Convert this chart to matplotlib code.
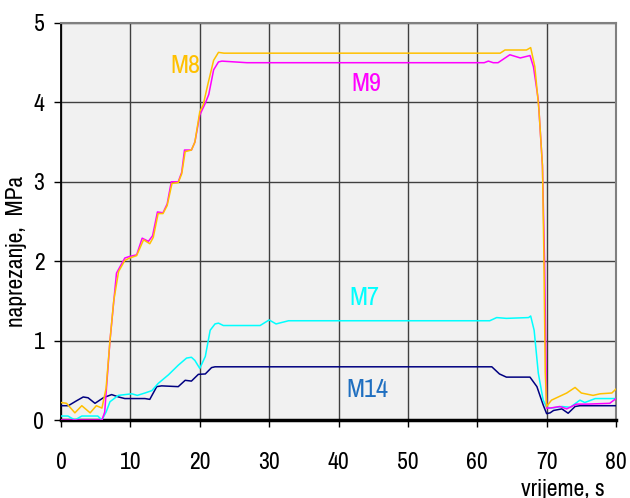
import matplotlib
matplotlib.use("Agg")
import matplotlib.pyplot as plt

plt.rcParams['font.family'] = ['Archivo Narrow', 'Liberation Sans', 'DejaVu Sans']

# stress traces, time in seconds, stress in MPa
m8_t = [0, 0.8, 2.0, 3.0, 4.2, 5.1, 5.9, 6.5, 7.06, 7.6, 8.3, 9.2, 9.9, 10.9, 11.9, 12.8,
        13.3, 14.0, 14.7, 15.3, 16.0, 16.9, 17.4, 17.9, 18.8, 19.3, 20.0, 20.5, 21.2, 22.0,
        22.7, 23.5, 30, 40, 50, 60, 63.3, 64.0, 67.1, 67.7, 68.3, 68.9, 69.4, 69.6, 69.8,
        70.0, 70.7, 72.9, 74.1, 75.0, 76.7, 77.7, 79.4, 80]
m8_v = [0.22, 0.21, 0.09, 0.18, 0.09, 0.18, 0.15, 0.4, 1.0, 1.5, 1.87, 2.01, 2.04, 2.07, 2.27, 2.22,
        2.3, 2.60, 2.60, 2.7, 2.98, 2.99, 3.1, 3.38, 3.40, 3.5, 3.88, 3.97, 4.24, 4.53,
        4.63, 4.62, 4.62, 4.62, 4.62, 4.62, 4.62, 4.66, 4.66, 4.69, 4.45, 3.9, 3.2, 2.1, 0.6,
        0.17, 0.25, 0.34, 0.41, 0.34, 0.31, 0.33, 0.34, 0.39]

m9_t = [0, 5.9, 6.3, 7.06, 8.0, 9.2, 9.9, 10.9, 11.7, 12.6, 13.2, 13.9, 14.7, 15.3, 15.9,
        16.9, 17.4, 17.8, 18.8, 19.3, 20.0, 20.8, 21.3, 22.0, 22.7, 23.2, 26.8, 40, 61.0,
        61.6, 62.3, 63.0, 64.7, 66.2, 67.6, 68.1, 68.8, 69.4, 69.7, 70.0, 70.5, 71.9, 72.9,
        74.3, 75.8, 79.1, 80]
m9_v = [0, 0, 0.1, 1.0, 1.85, 2.04, 2.06, 2.08, 2.29, 2.25, 2.32, 2.62, 2.61, 2.72, 3.0,
        3.0, 3.12, 3.4, 3.4, 3.5, 3.84, 3.99, 4.10, 4.41, 4.51, 4.52, 4.50, 4.50, 4.50,
        4.52, 4.50, 4.50, 4.60, 4.56, 4.59, 4.45, 4.03, 3.2, 2.0, 0.15, 0.15, 0.17, 0.14,
        0.2, 0.2, 0.21, 0.27]

m7_t = [0, 1.0, 2.0, 3.0, 5.3, 5.9, 6.5, 7.06, 8.26, 10.2, 11.0, 12.1, 13.1, 14.0, 15.5,
        16.9, 18.1, 18.8, 19.3, 20.0, 20.8, 21.5, 22.2, 22.7, 23.4, 28.7, 30.0, 31.0, 32.8,
        40, 50, 61.8, 62.8, 64.2, 67.4, 67.7, 68.2, 68.8, 69.5, 70.0, 70.7, 72.2, 73.4,
        74.8, 75.5, 77.0, 80]
m7_v = [0.05, 0.05, 0.0, 0.05, 0.05, 0.0, 0.1, 0.23, 0.31, 0.33, 0.31, 0.34, 0.37, 0.46, 0.57,
        0.69, 0.78, 0.79, 0.75, 0.65, 0.8, 1.13, 1.21, 1.22, 1.19, 1.19, 1.26, 1.21, 1.25,
        1.25, 1.25, 1.25, 1.29, 1.28, 1.29, 1.31, 1.13, 0.59, 0.25, 0.16, 0.15, 0.17, 0.16,
        0.25, 0.22, 0.27, 0.27]

m14_t = [0, 1.05, 2.2, 3.2, 3.9, 4.9, 6.1, 7.3, 8.3, 9.2, 12.1, 12.8, 13.8, 14.5, 16.9,
         17.9, 18.8, 19.8, 20.8, 21.7, 22.2, 40, 62.1, 63.2, 64.2, 67.6, 68.6, 69.5, 70.0,
         70.5, 71.0, 72.2, 73.1, 74.1, 74.8, 80]
m14_v = [0.18, 0.18, 0.24, 0.29, 0.28, 0.21, 0.28, 0.32, 0.29, 0.27, 0.27, 0.26, 0.42, 0.43, 0.42,
         0.50, 0.49, 0.575, 0.58, 0.66, 0.67, 0.67, 0.67, 0.58, 0.54, 0.54, 0.42, 0.19, 0.08,
         0.09, 0.12, 0.14, 0.085, 0.17, 0.18, 0.18]

x_ticks = [0, 10, 20, 30, 40, 50, 60, 70, 80]
y_ticks = [0, 1, 2, 3, 4, 5]

c_m8 = '#FFC000'
c_m9 = '#FF00FF'
c_m7 = '#00FFFF'
c_m14 = '#000080'

fig = plt.figure(figsize=(6.30, 4.98), dpi=100)
ax = fig.add_axes([61 / 630, 78 / 498, 555 / 630, 397 / 498])
ax.set_facecolor('#F1F1F1')

ax.plot(m14_t, m14_v, color=c_m14, lw=1.1, zorder=3)
ax.plot(m7_t, m7_v, color=c_m7, lw=1.1, zorder=3)
ax.plot(m9_t, m9_v, color=c_m9, lw=1.1, zorder=3)
ax.plot(m8_t, m8_v, color=c_m8, lw=1.1, zorder=4)

ax.set_xlim(0, 80)
ax.set_ylim(0, 5)
ax.set_xticks(x_ticks)
ax.set_yticks(y_ticks)
ax.grid(True, color='#404040', lw=1.0, zorder=1)
ax.set_axisbelow(True)

for side in ('top', 'right'):
    ax.spines[side].set_color('#808080')
    ax.spines[side].set_linewidth(1.5)
ax.spines['left'].set_color('black')
ax.spines['left'].set_linewidth(1.3)
ax.spines['bottom'].set_color('black')
ax.spines['bottom'].set_linewidth(2.5)

ax.tick_params(axis='x', direction='out', length=5, width=1, pad=18, labelsize=17)
ax.tick_params(axis='y', direction='out', length=5, width=1, pad=7, labelsize=17)

ax.text(17.9, 4.47, 'M8', color=c_m8, fontsize=19, ha='center', va='center')
ax.text(44.0, 4.24, 'M9', color=c_m9, fontsize=19, ha='center', va='center')
ax.text(43.8, 1.54, 'M7', color=c_m7, fontsize=19, ha='center', va='center')
ax.text(44.2, 0.38, 'M14', color='#1F6FC0', fontsize=19, ha='center', va='center')

fig.text(16.5 / 630, 1 - 251 / 498, 'naprezanje,  MPa', rotation=90,
         ha='center', va='center', fontsize=17)
fig.text(605 / 630, 1 - 489 / 498, 'vrijeme, s', ha='right', va='center', fontsize=17)

fig.savefig('out.png', dpi=100)
